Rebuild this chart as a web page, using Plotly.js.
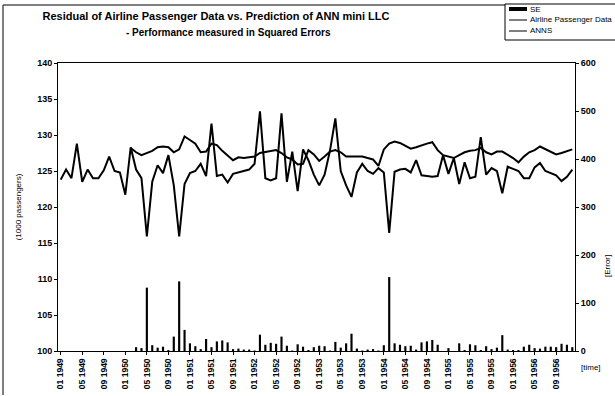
<!DOCTYPE html>
<html><head><meta charset="utf-8">
<script src="https://cdn.plot.ly/plotly-3.0.1.min.js"></script>
<style>html,body{margin:0;padding:0;background:#fff}#chart{width:615px;height:396px}</style>
</head><body><div id="chart"></div>
<script>
const years = [1949, 1950, 1951, 1952, 1953, 1954, 1955, 1956];
const monthCodes = ["01","02","03","04","05","06","07","08","09","10","11","12"];
const months = [];
years.forEach(y => monthCodes.forEach(m => months.push(m + " " + y)));

const tickLabels = ["01 1949","05 1949","09 1949","01 1950","05 1950","09 1950",
  "01 1951","05 1951","09 1951","01 1952","05 1952","09 1952",
  "01 1953","05 1953","09 1953","01 1954","05 1954","09 1954",
  "01 1955","05 1955","09 1955","01 1956","05 1956","09 1956"];

// Airline Passenger Data (1000 passengers), 01 1949 .. 12 1956
const passengerData = [
  123.8, 125.2, 124.0, 128.8, 123.5, 125.2, 124.0, 124.0, 125.1, 127.0,
  125.0, 124.8, 121.7, 128.3, 125.2, 124.0, 115.9, 123.5, 125.8, 124.7,
  127.2, 123.0, 115.9, 123.2, 124.7, 125.0, 126.0, 124.3, 131.6, 124.3,
  124.5, 123.4, 124.6, 124.8, 125.0, 125.2, 126.0, 133.3, 124.0, 123.7,
  124.0, 133.0, 123.5, 127.7, 122.2, 128.0, 126.5, 124.5, 123.0, 124.5,
  127.8, 132.3, 125.0, 123.0, 121.4, 124.8, 126.0, 125.0, 124.6, 125.4,
  124.8, 116.4, 124.9, 125.2, 125.3, 124.8, 126.5, 124.4, 124.3, 124.2,
  124.3, 127.2, 124.6, 126.8, 123.2, 126.2, 124.0, 124.2, 129.7, 124.5,
  125.4, 125.0, 121.9, 125.6, 125.3, 125.0, 124.0, 124.0, 125.5, 126.1,
  125.0, 124.7, 124.4, 123.6, 124.2, 125.2
];

// ANNS prediction, 02 1950 .. 12 1956
const annsStart = "02 1950";
const annsValues = [
  128.2, 127.6, 127.2, 127.5, 127.8, 128.3, 128.4, 128.3, 127.6, 128.0,
  129.8, 129.3, 128.8, 127.6, 127.7, 128.8, 128.6, 127.8, 127.2, 126.5,
  126.9, 126.8, 126.9, 127.0, 127.5, 127.6, 127.8, 127.9, 127.5, 126.9,
  126.6, 125.9, 126.0, 127.9, 127.3, 126.4, 127.0, 127.7, 127.9, 127.6,
  127.0, 127.0, 127.1, 127.0, 126.8, 126.6, 125.7, 128.0, 128.8, 129.1,
  128.9, 128.5, 128.1, 128.3, 128.6, 128.8, 129.0, 127.9, 127.2, 127.0,
  126.8, 127.2, 127.6, 127.8, 127.9, 128.2, 127.6, 127.3, 127.7, 127.7,
  127.3, 126.8, 126.2, 127.0, 127.6, 127.9, 128.4, 128.0, 127.7, 127.3,
  127.5, 127.8, 128.0
];

// Squared errors, 02 1950 .. 12 1956
const seValues = [
  0, 8, 6, 132, 12, 7, 9, 2, 30, 145,
  44, 16, 10, 4, 25, 8, 20, 22, 18, 4,
  5, 3, 3, 1, 34, 13, 17, 15, 30, 11,
  1, 14, 9, 2, 8, 11, 10, 1, 19, 7,
  16, 36, 5, 1, 3, 4, 1, 12, 154, 16,
  13, 10, 11, 3, 18, 20, 23, 13, 0, 6,
  0, 16, 2, 14, 12, 2, 10, 4, 7, 33,
  3, 2, 2, 9, 13, 6, 5, 9, 9, 8,
  15, 13, 8
];

const legendNames = ["SE", "Airline Passenger Data", "ANNS"];

const predMonths = months.slice(months.indexOf(annsStart));

const FONT = "Liberation Sans, Arial, sans-serif";

const traces = [
  {type: "scatter", mode: "lines", name: legendNames[1], x: months, y: passengerData,
   line: {color: "#000", width: 2}},
  {type: "scatter", mode: "lines", name: legendNames[2], x: predMonths, y: annsValues,
   line: {color: "#000", width: 2}},
  {type: "bar", name: legendNames[0], x: predMonths, y: seValues, yaxis: "y2",
   marker: {color: "#000"}, width: 0.4}
];

const L = 58, R = 575, T = 63, B = 351;
const px = v => (v - L) / (R - L);
const py = v => (B - v) / (B - T);

const legendShapes = [
  {type: "rect", xref: "paper", yref: "paper", x0: px(505), x1: px(622), y0: py(40), y1: py(4),
   line: {color: "#000", width: 1}, fillcolor: "#fff", layer: "above"},
  {type: "rect", xref: "paper", yref: "paper", x0: px(509), x1: px(527), y0: py(11), y1: py(7),
   line: {width: 0}, fillcolor: "#000", layer: "above"},
  {type: "line", xref: "paper", yref: "paper", x0: px(509), x1: px(527), y0: py(20), y1: py(20),
   line: {color: "#000", width: 1}, layer: "above"},
  {type: "line", xref: "paper", yref: "paper", x0: px(509), x1: px(527), y0: py(31), y1: py(31),
   line: {color: "#000", width: 1}, layer: "above"}
];
const legendText = [9, 20, 31].map((yy, k) => ({
  text: legendNames[k], xref: "paper", yref: "paper", x: px(528), y: py(yy),
  xanchor: "left", yanchor: "middle", showarrow: false,
  font: {family: FONT, size: 8, color: "#000"}
}));

const layout = {
  width: 615, height: 396,
  margin: {l: L, r: 615 - R, t: T, b: 396 - B, pad: 0, autoexpand: false},
  paper_bgcolor: "#fff", plot_bgcolor: "#fff",
  font: {family: FONT, color: "#000", size: 9},
  showlegend: false,
  title: {text: "<b>Residual of Airline Passenger Data vs. Prediction of ANN mini LLC</b>",
          x: 216 / 615, xref: "container", xanchor: "center",
          y: 1 - 16 / 396, yref: "container", yanchor: "middle",
          font: {family: FONT, size: 11, color: "#000"}},
  xaxis: {type: "category", categoryorder: "array", categoryarray: months,
          range: [-0.5, months.length - 0.5],
          tickmode: "array", tickvals: tickLabels, ticktext: tickLabels,
          tickangle: -90, ticks: "outside", ticklen: 3, tickcolor: "#000",
          tickfont: {family: FONT, size: 8.5, color: "#000", weight: "bold"},
          showline: true, linecolor: "#000", linewidth: 1, mirror: true,
          showgrid: false, zeroline: false},
  yaxis: {range: [100, 140], dtick: 5, ticks: "outside", ticklen: 3, tickcolor: "#000",
          tickfont: {family: FONT, size: 9, color: "#000", weight: "bold"},
          showline: true, linecolor: "#000", linewidth: 1, mirror: true,
          showgrid: false, zeroline: false,
          title: {text: "(1000 passengers)", font: {family: FONT, size: 8, color: "#000"}, standoff: 14}},
  yaxis2: {range: [0, 600], dtick: 100, overlaying: "y", side: "right",
           ticks: "outside", ticklen: 3, tickcolor: "#000",
           tickfont: {family: FONT, size: 9, color: "#000", weight: "bold"},
           showline: true, linecolor: "#000", linewidth: 1,
           showgrid: false, zeroline: false},
  annotations: [
    {text: "<b>- Performance measured in Squared Errors</b>", xref: "paper", yref: "paper",
     x: px(228), y: py(33), xanchor: "center", yanchor: "middle", showarrow: false,
     font: {family: FONT, size: 10, color: "#000"}},
    {text: "[time]", xref: "paper", yref: "paper", x: px(591), y: py(367),
     xanchor: "center", yanchor: "middle", showarrow: false,
     font: {family: FONT, size: 8, color: "#000"}},
    {text: "[Error]", xref: "paper", yref: "paper", x: px(607), y: py(266),
     xanchor: "center", yanchor: "middle", textangle: -90, showarrow: false,
     font: {family: FONT, size: 8, color: "#000"}}
  ].concat(legendText),
  shapes: [
    {type: "line", xref: "paper", yref: "paper", x0: px(3), x1: px(3), y0: py(395), y1: py(5),
     line: {color: "#000", width: 1}},
    {type: "line", xref: "paper", yref: "paper", x0: px(3), x1: px(614), y0: py(5), y1: py(5),
     line: {color: "#000", width: 1}}
  ].concat(legendShapes)
};

Plotly.newPlot("chart", traces, layout, {displayModeBar: false, staticPlot: true});
</script>
</body></html>
